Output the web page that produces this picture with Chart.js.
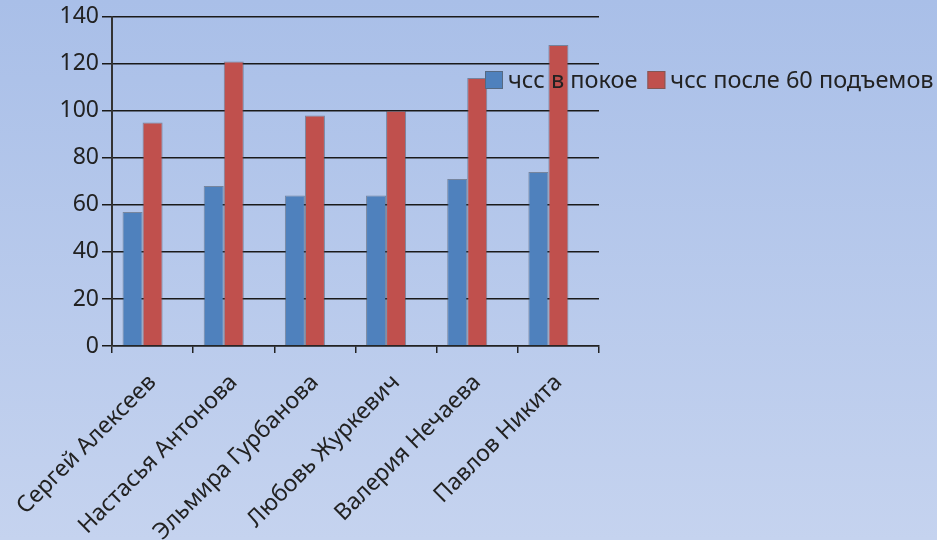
<!DOCTYPE html>
<html lang="ru">
<head>
<meta charset="utf-8">
<title>ЧСС в покое и после 60 подъемов</title>
<script src="https://cdn.jsdelivr.net/npm/chart.js@4.4.1/dist/chart.umd.min.js"></script>
<style>
    html, body { margin: 0; padding: 0; overflow: hidden; }
    body { width: 937px; height: 540px; background: linear-gradient(to bottom, #a9bfe8 0%, #c5d3ef 100%); }
    #wrap { position: relative; width: 937px; height: 540px; }
</style>
</head>
<body>
<div id="wrap"><canvas id="hrChart"></canvas></div>
<script>
const names = ['Сергей Алексеев', 'Настасья Антонова', 'Эльмира Гурбанова', 'Любовь Журкевич', 'Валерия Нечаева', 'Павлов Никита'];
const restValues = [57, 68, 64, 64, 71, 74];
const afterValues = [95, 121, 98, 100, 114, 128];
const seriesLabels = ['чсс в покое', 'чсс после 60 подъемов'];
const yTicks = [0, 20, 40, 60, 80, 100, 120, 140];

const FONT = '"Noto Sans", "Open Sans", sans-serif';
const TEXT = '#222';

// легенда поверх графика, как в исходнике
const floatLegend = {
    id: 'floatLegend',
    afterDraw(chart) {
        const c = chart.ctx;
        let x = 485;
        const y = 80;
        c.save();
        c.font = '23.5px ' + FONT;
        c.textBaseline = 'middle';
        chart.data.datasets.filter(d => d.label).forEach(d => {
            c.fillStyle = d.backgroundColor;
            c.fillRect(x, y - 9, 18, 18);
            c.strokeStyle = 'rgba(90,90,90,0.6)';
            c.lineWidth = 1;
            c.strokeRect(x + 0.5, y - 8.5, 17, 17);
            c.fillStyle = TEXT;
            c.fillText(d.label, x + 23, y + 1);
            x += 23 + c.measureText(d.label).width + 10;
        });
        c.restore();
    }
};

document.addEventListener('DOMContentLoaded', () => {
    const ctx = document.getElementById('hrChart').getContext('2d');
    new Chart(ctx, {
        type: 'bar',
        data: {
            labels: names,
            datasets: [{
                label: seriesLabels[0],
                data: restValues,
                backgroundColor: '#4f81bd',
                borderColor: 'rgba(70,80,95,0.55)',
                borderWidth: 1
            }, {
                label: seriesLabels[1],
                data: afterValues,
                backgroundColor: '#c0504d',
                borderColor: 'rgba(70,80,95,0.55)',
                borderWidth: 1
            }, {
                // пустой ряд: в исходнике пары столбцов сдвинуты влево
                label: '',
                data: names.map(() => null),
                backgroundColor: 'transparent'
            }]
        },
        options: {
            responsive: true,
            maintainAspectRatio: false,
            animation: false,
            layout: { padding: { top: 15, right: 338, left: 0, bottom: 0 } },
            datasets: { bar: { categoryPercentage: 0.74, barPercentage: 1 } },
            plugins: {
                legend: { display: false },
                tooltip: { enabled: false }
            },
            scales: {
                x: {
                    afterFit: (axis) => {
                        axis.height = 194;
                        axis.paddingLeft = 0;
                        axis.paddingRight = 0;
                    },
                    grid: { drawOnChartArea: false, color: '#222', lineWidth: 1.5, tickLength: 7 },
                    border: { color: '#222', width: 1.5 },
                    ticks: {
                        color: TEXT,
                        font: { family: FONT, size: 23 },
                        maxRotation: 45,
                        minRotation: 45,
                        padding: 16
                    }
                },
                y: {
                    min: yTicks[0],
                    max: yTicks[yTicks.length - 1],
                    afterFit: (axis) => { axis.width = 112; },
                    grid: { color: '#1a1a1a', lineWidth: 1.5, tickLength: 10 },
                    border: { color: '#333', width: 2 },
                    ticks: {
                        stepSize: 20,
                        color: TEXT,
                        padding: 3,
                        font: { family: FONT, size: 23 }
                    }
                }
            }
        },
        plugins: [floatLegend]
    });
});
</script>
</body>
</html>
